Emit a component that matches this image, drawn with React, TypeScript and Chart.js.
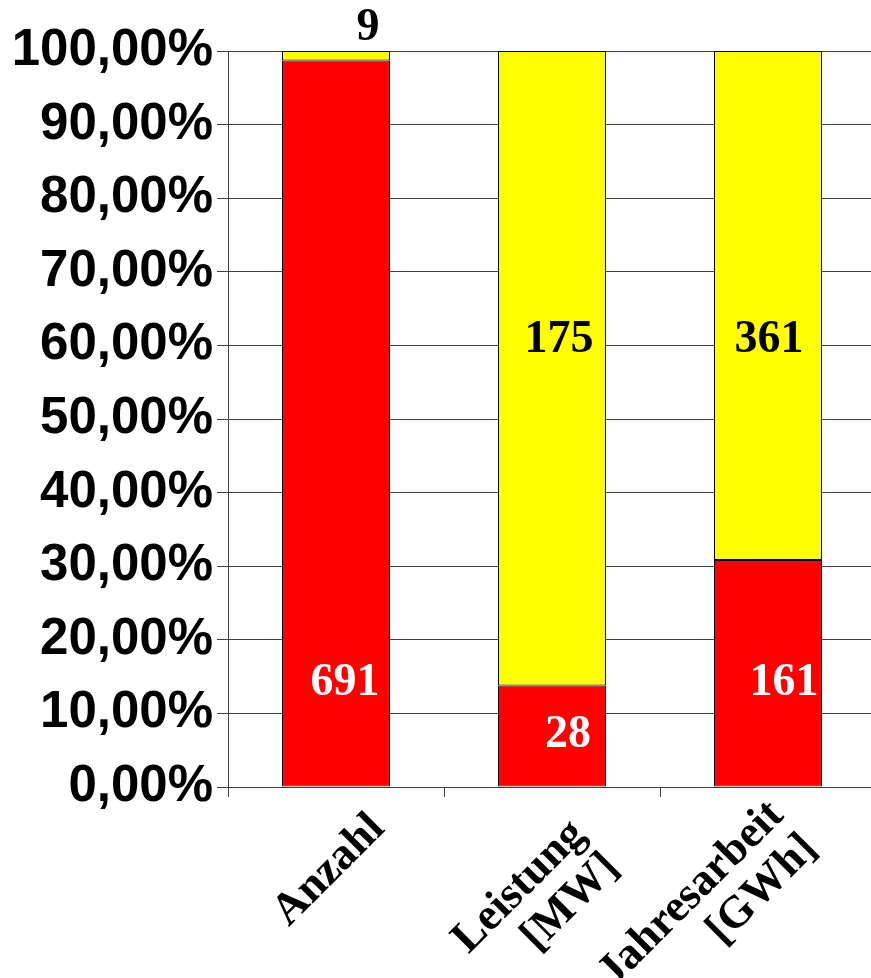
import { useEffect, useRef } from 'react';
import { Chart, registerables } from 'chart.js';

Chart.register(...registerables);

// Categories along the x axis (multi-line where the unit sits on a second line)
const categories: string[][] = [['Anzahl'], ['Leistung', '[MW]'], ['Jahresarbeit', '[GWh]']];

// Absolute values per category
const redValues = [691, 28, 161];
const yellowValues = [9, 175, 361];

// Percentage ticks on the y axis
const yTickValues = [0, 10, 20, 30, 40, 50, 60, 70, 80, 90, 100];

// Where each value label sits: baseline in axis units (%), and a horizontal nudge in px
const redLabelAt = [12.5, 5.4, 12.5];
const redLabelShift = [9, 16, 16];
const yellowLabelAt = [101.5, 59.1, 59.1];
const yellowLabelShift = [32, 7, 1];

// End of the first line of each rotated category label, relative to tick centre / axis line
const catLabelDX = [50, 35, 17];
const catLabelDY = [43, 49, 30];

const totals = redValues.map((v, i) => v + yellowValues[i]);
const toPct = (vals: number[]) => vals.map((v, i) => (v / totals[i]) * 100);

const formatPct = (v: number) => v.toFixed(2).replace('.', ',') + '%';

const W = 876;
const H = 978;
const AREA_LEFT = 228;
const AREA_TOP = 51;
const AREA_BOTTOM = 787;

const SERIF = '"Liberation Serif", "Times New Roman", serif';

const valueLabels = {
  id: 'valueLabels',
  afterDatasetsDraw(chart: any) {
    const { ctx, scales } = chart;
    const y = scales.y;
    const specs = [
      { values: redValues, at: redLabelAt, shift: redLabelShift, color: '#ffffff' },
      { values: yellowValues, at: yellowLabelAt, shift: yellowLabelShift, color: '#000000' },
    ];
    ctx.save();
    ctx.font = `bold 46px ${SERIF}`;
    ctx.textAlign = 'center';
    ctx.textBaseline = 'alphabetic';
    specs.forEach((spec, di) => {
      const meta = chart.getDatasetMeta(di);
      meta.data.forEach((bar: any, i: number) => {
        ctx.fillStyle = spec.color;
        ctx.fillText(String(spec.values[i]), bar.x + spec.shift[i], y.getPixelForValue(spec.at[i]));
      });
    });
    ctx.restore();
  },
};

// Category names, rotated 45° and right-aligned at each tick
const categoryLabels = {
  id: 'categoryLabels',
  afterDraw(chart: any) {
    const { ctx } = chart;
    const x = chart.scales.x;
    const lineHeight = 47;
    ctx.save();
    ctx.font = `bold 45px ${SERIF}`;
    ctx.fillStyle = '#000000';
    ctx.textAlign = 'right';
    ctx.textBaseline = 'alphabetic';
    categories.forEach((lines, i) => {
      ctx.save();
      ctx.translate(x.getPixelForTick(i) + catLabelDX[i], x.top + catLabelDY[i]);
      ctx.rotate(-Math.PI / 4);
      lines.forEach((line, j) => ctx.fillText(line, 0, j * lineHeight));
      ctx.restore();
    });
    ctx.restore();
  },
};

export default function App() {
  const ref = useRef<HTMLCanvasElement>(null);

  useEffect(() => {
    const canvas = ref.current;
    if (!canvas) return;
    const chart = new Chart(canvas, {
      type: 'bar',
      data: {
        labels: categories.map((l) => l.join(' ')),
        datasets: [
          {
            data: toPct(redValues),
            backgroundColor: '#ff0000',
            borderColor: '#000000',
            borderWidth: 1,
            borderSkipped: false,
            categoryPercentage: 1,
            barPercentage: 0.5,
          },
          {
            data: toPct(yellowValues),
            backgroundColor: '#ffff00',
            borderColor: '#000000',
            borderWidth: 1,
            borderSkipped: false,
            categoryPercentage: 1,
            barPercentage: 0.5,
          },
        ],
      },
      options: {
        responsive: false,
        animation: false,
        layout: { padding: { top: AREA_TOP, right: 0, left: 0, bottom: 0 } },
        plugins: {
          legend: { display: false },
          tooltip: { enabled: false },
        },
        scales: {
          x: {
            stacked: true,
            grid: {
              offset: true,
              drawOnChartArea: false,
              drawTicks: true,
              tickLength: 10,
              color: '#404040',
            },
            border: { display: true, color: '#404040', width: 1 },
            ticks: { display: false, autoSkip: false },
            afterFit(scale: any) {
              scale.height = H - AREA_BOTTOM;
            },
          },
          y: {
            stacked: true,
            min: 0,
            max: 100,
            grid: {
              color: '#404040',
              lineWidth: 1,
              drawTicks: true,
              tickLength: 11,
            },
            border: { display: true, color: '#404040', width: 1 },
            afterBuildTicks(scale: any) {
              scale.ticks = yTickValues.map((value) => ({ value }));
            },
            ticks: {
              padding: 4,
              color: '#000000',
              font: { family: '"Liberation Sans", Arial, sans-serif', weight: 'bold', size: 51 },
              callback: (v: any) => formatPct(Number(v)),
            },
            afterFit(scale: any) {
              scale.width = AREA_LEFT;
            },
          },
        },
      },
      plugins: [valueLabels, categoryLabels],
    });
    return () => chart.destroy();
  }, []);

  return (
    <div style={{ position: 'fixed', left: 0, top: 0, width: 871, height: 978, overflow: 'hidden', background: '#ffffff' }}>
      <canvas ref={ref} width={W} height={H} style={{ display: 'block', width: W, height: H }} />
    </div>
  );
}
